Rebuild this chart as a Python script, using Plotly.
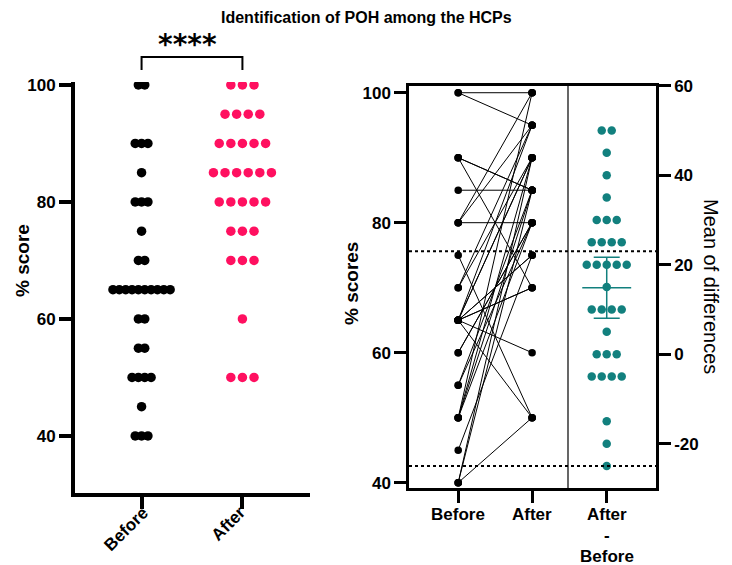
from collections import Counter
import plotly.graph_objects as go

# target picture is 732x565; the page body adds an 8px margin
PAGE_W, PAGE_H = 732, 565
OFF = 8
W, H = PAGE_W - OFF, PAGE_H - OFF

# left panel: column scatter
before_scores = [100, 100, 90, 90, 90, 85, 80, 80, 80, 75, 70, 70,
                 65, 65, 65, 65, 65, 65, 65, 65, 65, 65, 60, 60,
                 55, 55, 50, 50, 50, 50, 45, 40, 40, 40]
after_scores = [100, 100, 100, 95, 95, 95, 95, 90, 90, 90, 90, 90,
                85, 85, 85, 85, 85, 85, 80, 80, 80, 80, 80,
                75, 75, 75, 70, 70, 70, 60, 50, 50, 50]
group_labels = ['Before', 'After']
diff_label = ['After', '-', 'Before']

# right panel: paired scores (one entry per HCP)
paired_before = [100, 100, 90, 90, 90, 85, 80, 80, 80, 75, 70, 70,
                 65, 65, 65, 65, 65, 65, 65, 65, 65, 60, 60, 55, 55,
                 50, 50, 50, 50, 45, 40, 40, 40]
paired_after = [100, 95, 85, 85, 70, 85, 80, 100, 95, 50, 95, 90,
                60, 50, 95, 90, 90, 75, 75, 70, 70, 80, 80, 85, 80,
                100, 90, 85, 80, 75, 90, 85, 50]
differences = [50, 50, 45, 40, 35, 30, 30, 30, 25, 25, 25, 25,
               20, 20, 20, 20, 20, 15, 10, 10, 10, 10, 5, 0, 0, 0,
               -5, -5, -5, -5, -15, -20, -25]
dashed_levels = [23, -25]
score_ticks = [40, 60, 80, 100]
diff_ticks = [-20, 0, 20, 40, 60]
T_CRIT = 2.037  # t(0.975, df=32)

BLACK = '#000000'
PINK = '#ff1060'
TEAL = '#12807e'
FONT = 'Liberation Sans'


def px_x(p):
    return (p - OFF) / W


def px_y(p):
    return 1 - (p - OFF) / H


def swarm(values, center, step):
    counts = Counter(values)
    seen = Counter()
    xs = []
    for v in values:
        n = counts[v]
        i = seen[v]
        seen[v] += 1
        xs.append(center + (i - (n - 1) / 2) * step)
    return xs


fig = go.Figure()

# left panel
fig.add_trace(go.Scatter(x=swarm(before_scores, 1, 0.063), y=before_scores,
                         mode='markers', marker=dict(color=BLACK, size=9.5),
                         xaxis='x', yaxis='y'))
fig.add_trace(go.Scatter(x=swarm(after_scores, 2, 0.115), y=after_scores,
                         mode='markers', marker=dict(color=PINK, size=9.5),
                         xaxis='x', yaxis='y'))

# paired lines
lx, ly = [], []
for b, a in zip(paired_before, paired_after):
    lx += [1, 2, None]
    ly += [b, a, None]
fig.add_trace(go.Scatter(x=lx, y=ly, mode='lines+markers',
                         line=dict(color=BLACK, width=1),
                         marker=dict(color=BLACK, size=7.5),
                         xaxis='x2', yaxis='y2'))

# differences
c = 0.44
fig.add_trace(go.Scatter(x=swarm(differences, c, 0.1136), y=differences,
                         mode='markers', marker=dict(color=TEAL, size=8.5),
                         xaxis='x3', yaxis='y3'))
n = len(differences)
mean = sum(differences) / n
sd = (sum((d - mean) ** 2 for d in differences) / (n - 1)) ** 0.5
ci = T_CRIT * sd / n ** 0.5
fig.add_trace(go.Scatter(x=[c - 0.278, c + 0.278], y=[mean, mean], mode='lines',
                         line=dict(color=TEAL, width=1.5),
                         xaxis='x3', yaxis='y3'))
fig.add_trace(go.Scatter(x=[c], y=[mean], mode='markers',
                         marker=dict(color=TEAL, size=1),
                         error_y=dict(type='data', array=[ci], color=TEAL,
                                      thickness=1.5, width=13),
                         xaxis='x3', yaxis='y3'))

tick_font = dict(family=FONT, size=17, color=BLACK, weight='bold')
common = dict(showgrid=False, zeroline=False, ticks='outside',
              linecolor=BLACK, tickcolor=BLACK, tickfont=tick_font,
              automargin=False, fixedrange=True)

fig.update_layout(
    width=W, height=H,
    margin=dict(l=0, r=0, t=0, b=0),
    paper_bgcolor='white', plot_bgcolor='white',
    showlegend=False,
    xaxis=dict(domain=[px_x(75), px_x(310)], range=[0.34, 2.67],
               tickvals=[1, 2], showticklabels=False,
               showline=True, linewidth=4, ticklen=12, tickwidth=4,
               anchor='y', **common),
    yaxis=dict(domain=[px_y(492.7), px_y(82)], range=[30.3, 100.5],
               tickvals=score_ticks, showline=True, linewidth=4,
               ticklen=12, tickwidth=4, anchor='x', **common),
    xaxis2=dict(domain=[px_x(409), px_x(568)], range=[0.334, 2.486],
                tickvals=[1, 2], showticklabels=False, showline=True,
                mirror=True, linewidth=2.5, ticklen=12, tickwidth=2.5,
                anchor='y2', **common),
    yaxis2=dict(domain=[px_y(488), px_y(85.7)], range=[39.18, 101.08],
                tickvals=score_ticks, showline=True, linewidth=2.5,
                ticklen=12, tickwidth=2.5, anchor='x2', **common),
    xaxis3=dict(domain=[px_x(568), px_x(656)], range=[0, 1],
                tickvals=[c], showticklabels=False,
                showline=True, mirror=True, linewidth=2.5, ticklen=12,
                tickwidth=2.5, anchor='y3', **common),
    yaxis3=dict(domain=[px_y(488), px_y(85.7)], range=[-29.9, 60],
                tickvals=diff_ticks, ticktext=[str(t) for t in diff_ticks],
                side='right', showline=True,
                linewidth=2.5, ticklen=12, tickwidth=2.5, anchor='x3',
                **common),
)

shapes = [
    # divider between paired and difference plots
    dict(type='line', xref='paper', yref='paper', x0=px_x(568), x1=px_x(568),
         y0=px_y(488), y1=px_y(85.7), line=dict(color=BLACK, width=1.2)),
    # significance bracket
    dict(type='path', xref='x', yref='paper',
         path=f'M 1 {px_y(70)} L 1 {px_y(57)} L 2 {px_y(57)} L 2 {px_y(70)}',
         line=dict(color=BLACK, width=2)),
]
for lvl in dashed_levels:
    shapes.append(dict(type='line', xref='paper', yref='y3',
                       x0=px_x(409), x1=px_x(656), y0=lvl, y1=lvl,
                       line=dict(color=BLACK, width=2, dash='3px,3px')))
fig.update_layout(shapes=shapes)

annotations = [
    dict(text='Identification of POH among the HCPs', x=px_x(366), y=px_y(18),
         font=dict(family=FONT, size=16, weight='bold')),
    dict(text='****', x=px_x(187), y=px_y(44),
         font=dict(family='DejaVu Sans', size=28, weight='bold')),
    dict(text='% score', x=px_x(22), y=px_y(261), textangle=-90,
         font=dict(family=FONT, size=19, weight='bold')),
    dict(text='% scores', x=px_x(352), y=px_y(284), textangle=-90,
         font=dict(family=FONT, size=19, weight='bold')),
    dict(text='Mean of differences', x=px_x(711), y=px_y(286), textangle=90,
         font=dict(family=FONT, size=20)),
]
for a in annotations:
    a.update(xref='paper', yref='paper')

# category labels drawn as annotations for exact placement
bold17 = dict(family=FONT, size=17, weight='bold')
# left panel: rotated labels, ending at the ticks
for lab, xv, xs, yc in zip(group_labels, [1, 2], [-16, -14], [529, 523]):
    annotations.append(dict(text=lab, xref='x', x=xv, xshift=xs,
                            yref='paper', y=px_y(yc), textangle=-45,
                            font=dict(bold17)))
# right panel
for lab, xv in zip(group_labels, [1, 2]):
    annotations.append(dict(text=lab, xref='x2', x=xv, yref='paper',
                            y=px_y(514), font=dict(bold17)))
for k, lab in enumerate(diff_label):
    annotations.append(dict(text=lab, xref='x3', x=c, yref='paper',
                            y=px_y(514 + 21 * k), font=dict(bold17)))

for a in annotations:
    a.update(showarrow=False, xanchor='center', yanchor='middle')
    a['font'].setdefault('color', BLACK)
fig.update_layout(annotations=annotations)

fig.write_html('out.html')
